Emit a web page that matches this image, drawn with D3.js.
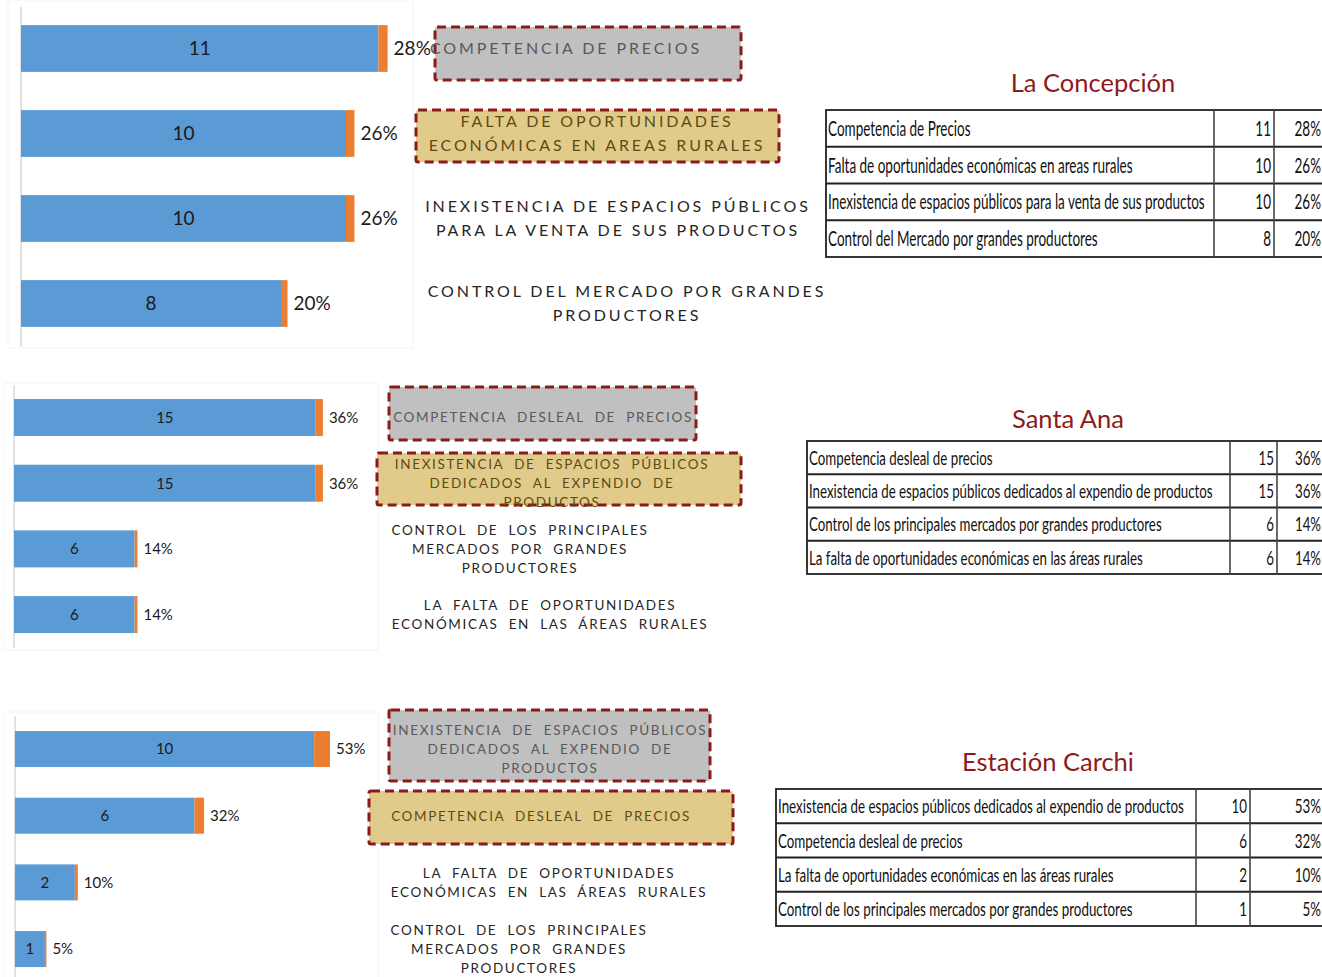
<!DOCTYPE html>
<html>
<head>
<meta charset="utf-8">
<script src="https://cdn.jsdelivr.net/npm/d3@7"></script>
<style>
  html, body { margin: 0; padding: 0; background: #ffffff; }
  svg { display: block; }
</style>
</head>
<body>
<svg id="chart" width="1322" height="977"></svg>
<script>
// ---------------- DATA ----------------
// Panel 1 — La Concepción
const p1Title = "La Concepción";
const p1Categories = [
  "Competencia de Precios",
  "Falta de oportunidades económicas en areas rurales",
  "Inexistencia de espacios públicos para la venta de sus productos",
  "Control del Mercado por grandes productores"
];
const p1Counts = [11, 10, 10, 8];
const p1Pcts = [0.28, 0.26, 0.26, 0.20];
const p1PctLabels = ["28%", "26%", "26%", "20%"];
const p1Labels = [
  ["COMPETENCIA DE PRECIOS"],
  ["FALTA DE OPORTUNIDADES", "ECONÓMICAS EN AREAS RURALES"],
  ["INEXISTENCIA DE ESPACIOS PÚBLICOS", "PARA LA VENTA DE SUS PRODUCTOS"],
  ["CONTROL DEL MERCADO POR GRANDES", "PRODUCTORES"]
];

// Panel 2 — Santa Ana
const p2Title = "Santa Ana";
const p2Categories = [
  "Competencia desleal de precios",
  "Inexistencia de espacios públicos dedicados al expendio de productos",
  "Control de los principales mercados por grandes productores",
  "La falta de oportunidades económicas en las áreas rurales"
];
const p2Counts = [15, 15, 6, 6];
const p2Pcts = [0.36, 0.36, 0.14, 0.14];
const p2PctLabels = ["36%", "36%", "14%", "14%"];
const p2Labels = [
  ["COMPETENCIA  DESLEAL  DE  PRECIOS"],
  ["INEXISTENCIA  DE  ESPACIOS  PÚBLICOS", "DEDICADOS  AL  EXPENDIO  DE", "PRODUCTOS"],
  ["CONTROL  DE  LOS  PRINCIPALES", "MERCADOS  POR  GRANDES", "PRODUCTORES"],
  ["LA  FALTA  DE  OPORTUNIDADES", "ECONÓMICAS  EN  LAS  ÁREAS  RURALES"]
];

// Panel 3 — Estación Carchi
const p3Title = "Estación Carchi";
const p3Categories = [
  "Inexistencia de espacios públicos dedicados al expendio de productos",
  "Competencia desleal de precios",
  "La falta de oportunidades económicas en las áreas rurales",
  "Control de los principales mercados por grandes productores"
];
const p3Counts = [10, 6, 2, 1];
const p3Pcts = [0.53, 0.32, 0.10, 0.05];
const p3PctLabels = ["53%", "32%", "10%", "5%"];
const p3Labels = [
  ["INEXISTENCIA  DE  ESPACIOS  PÚBLICOS", "DEDICADOS  AL  EXPENDIO  DE", "PRODUCTOS"],
  ["COMPETENCIA  DESLEAL  DE  PRECIOS"],
  ["LA  FALTA  DE  OPORTUNIDADES", "ECONÓMICAS  EN  LAS  ÁREAS  RURALES"],
  ["CONTROL  DE  LOS  PRINCIPALES", "MERCADOS  POR  GRANDES", "PRODUCTORES"]
];

// ---------------- LAYOUT / STYLE ----------------
const BLUE = "#5B9BD5", ORANGE = "#ED7D31";
const RED = "#8C1A1A";
const FONT = "Lato, 'Open Sans', 'DejaVu Sans', sans-serif";

const panels = [
  {
    title: p1Title, cats: p1Categories, counts: p1Counts, pcts: p1Pcts, pctLabels: p1PctLabels, labels: p1Labels,
    xDomain: 12, xRange: [21, 411], yRange: [6, 346], padInner: 0.45,
    frame: { x0: 8, x1: 413, y0: 0, y1: 348 },
    barFont: 19, pctOffset: 6,
    labelFont: 16, labelSpacing: 2.9, lineH: 24,
    labelX: [566, 597, 618, 627],
    boxes: [
      { idx: 0, fill: "#C0C0C0", x0: 435, x1: 741, y0: 27, y1: 80 },
      { idx: 1, fill: "#E0CB8A", x0: 416, x1: 779, y0: 110, y1: 162 }
    ],
    table: { left: 826, top: 110, rowH: 36.75, sep1: 1214, sep2: 1274, right: 1340,
             titleX: 1093, titleY: 83, longest: 377, font: 21 }
  },
  {
    title: p2Title, cats: p2Categories, counts: p2Counts, pcts: p2Pcts, pctLabels: p2PctLabels, labels: p2Labels,
    xDomain: 18, xRange: [14, 376], yRange: [384.7, 647.4], padInner: 0.437,
    frame: { x0: 4, x1: 378, y0: 383, y1: 650 },
    barFont: 15, pctOffset: 6,
    labelFont: 13.5, labelSpacing: 1.65, lineH: 19,
    labelX: [543, 552, 520, 550],
    boxes: [
      { idx: 0, fill: "#C0C0C0", x0: 389, x1: 696, y0: 387, y1: 440 },
      { idx: 1, fill: "#E0CB8A", x0: 377, x1: 741, y0: 453, y1: 505 }
    ],
    table: { left: 807, top: 441, rowH: 33.25, sep1: 1230, sep2: 1277, right: 1340,
             titleX: 1068, titleY: 419, longest: 404, font: 20 }
  },
  {
    title: p3Title, cats: p3Categories, counts: p3Counts, pcts: p3Pcts, pctLabels: p3PctLabels, labels: p3Labels,
    xDomain: 12, xRange: [15, 374], yRange: [715.7, 982.4], padInner: 0.46,
    frame: { x0: 4, x1: 378, y0: 712, y1: 990 },
    barFont: 15, pctOffset: 6,
    labelFont: 13.5, labelSpacing: 1.65, lineH: 19,
    labelX: [550, 541, 549, 519],
    boxes: [
      { idx: 0, fill: "#C0C0C0", x0: 389, x1: 710, y0: 710, y1: 781 },
      { idx: 1, fill: "#E0CB8A", x0: 369, x1: 733, y0: 791, y1: 844 }
    ],
    table: { left: 776, top: 789, rowH: 34.25, sep1: 1196, sep2: 1250, right: 1340,
             titleX: 1048, titleY: 762, longest: 406, font: 20 }
  }
];

const svg = d3.select("#chart");

panels.forEach((p) => {
  const g = svg.append("g");
  const idx = d3.range(p.cats.length);

  const x = d3.scaleLinear().domain([0, p.xDomain]).range(p.xRange);
  const y = d3.scaleBand().domain(idx).range(p.yRange)
              .paddingInner(p.padInner).paddingOuter(p.padInner / 2);

  // faint chart-area frame
  g.append("rect")
    .attr("x", p.frame.x0).attr("y", p.frame.y0)
    .attr("width", p.frame.x1 - p.frame.x0).attr("height", p.frame.y1 - p.frame.y0)
    .attr("fill", "none").attr("stroke", "#f4f4f4").attr("stroke-width", 1);

  // vertical category axis (line only)
  const axis = g.append("g")
    .attr("transform", `translate(${p.xRange[0] - 0.5},0)`)
    .call(d3.axisLeft(y).tickSize(0).tickFormat(""));
  axis.select(".domain").attr("stroke", "#d9d9d9").attr("stroke-width", 1.5);

  // blue bars (counts)
  g.selectAll("rect.count").data(idx).join("rect")
    .attr("class", "count")
    .attr("x", x(0)).attr("y", i => y(i))
    .attr("width", i => x(p.counts[i]) - x(0))
    .attr("height", y.bandwidth())
    .attr("fill", BLUE);

  // orange stacked segment (percentage)
  g.selectAll("rect.pct").data(idx).join("rect")
    .attr("class", "pct")
    .attr("x", i => x(p.counts[i])).attr("y", i => y(i))
    .attr("width", i => x(p.counts[i] + p.pcts[i]) - x(p.counts[i]))
    .attr("height", y.bandwidth())
    .attr("fill", ORANGE);

  // count labels
  g.selectAll("text.count").data(idx).join("text")
    .attr("class", "count")
    .attr("x", i => x(p.counts[i] / 2)).attr("y", i => y(i) + y.bandwidth() / 2)
    .attr("dy", "0.36em").attr("text-anchor", "middle")
    .attr("font-family", FONT).attr("font-size", p.barFont).attr("fill", "#1a1a1a")
    .text(i => p.counts[i]);

  // pct labels
  g.selectAll("text.pctl").data(idx).join("text")
    .attr("class", "pctl")
    .attr("x", i => x(p.counts[i] + p.pcts[i]) + p.pctOffset).attr("y", i => y(i) + y.bandwidth() / 2)
    .attr("dy", "0.36em").attr("text-anchor", "start")
    .attr("font-family", FONT).attr("font-size", p.barFont).attr("fill", "#1a1a1a")
    .text(i => p.pctLabels[i]);

  // annotation boxes
  p.boxes.forEach(b => {
    g.append("rect")
      .attr("x", b.x0).attr("y", b.y0)
      .attr("width", b.x1 - b.x0).attr("height", b.y1 - b.y0)
      .attr("rx", 2)
      .attr("fill", b.fill)
      .attr("stroke", RED).attr("stroke-width", 3)
      .attr("stroke-dasharray", "9,5");
  });

  // annotation labels
  const boxFill = {};
  p.boxes.forEach(b => boxFill[b.idx] = b.fill);
  idx.forEach(i => {
    const lines = p.labels[i];
    const cy = y(i) + y.bandwidth() / 2;
    const color = boxFill[i] === "#C0C0C0" ? "#595959" : (boxFill[i] ? "#5E4B12" : "#262626");
    const t = g.append("text")
      .attr("font-family", FONT).attr("font-size", p.labelFont)
      .attr("letter-spacing", p.labelSpacing)
      .attr("fill", color)
      .attr("text-anchor", "middle")
      .style("white-space", "pre");
    lines.forEach((ln, k) => {
      t.append("tspan")
        .attr("x", p.labelX[i])
        .attr("y", cy + (k - (lines.length - 1) / 2) * p.lineH)
        .attr("dy", "0.36em")
        .text(ln);
    });
  });

  // ---------- table ----------
  const T = p.table;
  const tg = svg.append("g");
  tg.append("text")
    .attr("x", T.titleX).attr("y", T.titleY).attr("dy", "0.36em")
    .attr("text-anchor", "middle")
    .attr("font-family", FONT).attr("font-size", 25.5).attr("fill", "#8E1B1B")
    .text(p.title);

  const rowY = d3.scaleBand().domain(idx).range([T.top, T.top + T.rowH * idx.length]);

  // condensation factor from the longest label
  const probe = tg.append("text").attr("font-family", FONT).attr("font-size", T.font)
    .text(p.cats.reduce((a, b) => a.length > b.length ? a : b));
  const natural = probe.node().getComputedTextLength();
  probe.remove();
  const k = T.longest / natural;

  const cellText = (xPos, anchor, fn) => {
    tg.selectAll(null).data(idx).join("g")
      .attr("transform", i => `translate(${xPos},${rowY(i) + T.rowH / 2}) scale(${k},1)`)
      .append("text")
      .attr("x", 0).attr("y", 0)
      .attr("dy", "0.36em").attr("text-anchor", anchor)
      .attr("font-family", FONT).attr("font-size", T.font).attr("fill", "#111")
      .text(fn);
  };
  cellText(T.left + 2, "start", i => p.cats[i]);
  cellText(T.sep2 - 3, "end", i => p.counts[i]);
  cellText(1321, "end", i => p.pctLabels[i]);

  // grid lines
  const bottom = T.top + T.rowH * idx.length;
  tg.append("rect")
    .attr("x", T.left).attr("y", T.top)
    .attr("width", T.right - T.left).attr("height", bottom - T.top)
    .attr("fill", "none").attr("stroke", "#222").attr("stroke-width", 1.8);
  tg.selectAll("line.h").data(idx.slice(1)).join("line")
    .attr("x1", T.left).attr("x2", T.right)
    .attr("y1", i => rowY(i)).attr("y2", i => rowY(i))
    .attr("stroke", "#222").attr("stroke-width", 1.8);
  [T.sep1, T.sep2].forEach(sx => {
    tg.append("line").attr("x1", sx).attr("x2", sx).attr("y1", T.top).attr("y2", bottom)
      .attr("stroke", "#444").attr("stroke-width", 1.6);
  });
});
</script>
</body>
</html>
